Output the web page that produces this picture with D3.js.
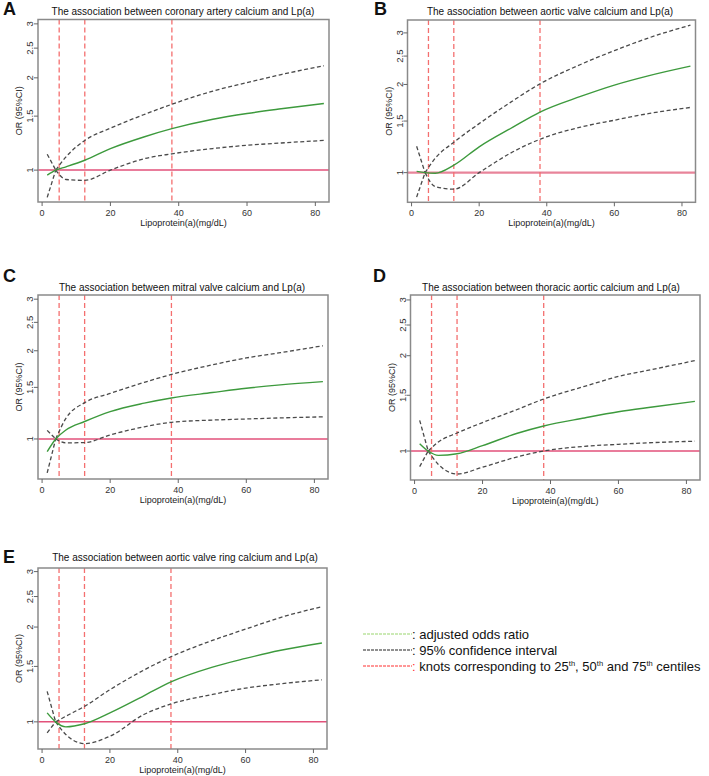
<!DOCTYPE html>
<html><head><meta charset="utf-8">
<script src="https://cdn.jsdelivr.net/npm/d3@7"></script>
<style>body{margin:0;background:#fff} text{font-family:Arial,"Liberation Sans",sans-serif}</style>
</head><body><svg id="c" width="709" height="776"></svg>
<script>
// ---- data ----
const xs = [1.5, 4, 7, 12.5, 20, 30, 38, 50, 60, 70, 82.5];
const refX = 4;
const knots = [5, 12.5, 38];
const xTicks = [0, 20, 40, 60, 80];
const yTicks = [1, 1.5, 2, 2.5, 3];
const panelLetters = ["A", "B", "C", "D", "E"];
const panelTitles = [
  "The association between coronary artery calcium and Lp(a)",
  "The association between aortic valve calcium and Lp(a)",
  "The association between mitral valve calcium and Lp(a)",
  "The association between thoracic aortic calcium and Lp(a)",
  "The association between aortic valve ring calcium and Lp(a)"
];
const orA    = [0.963, 1.0, 1.025, 1.077, 1.175, 1.285, 1.365, 1.465, 1.53, 1.585, 1.65];
const upperA = [1.127, 1.0, 1.105, 1.25, 1.37, 1.52, 1.64, 1.81, 1.93, 2.05, 2.19];
const lowerA = [0.815, 1.0, 0.932, 0.926, 1.0, 1.09, 1.13, 1.176, 1.205, 1.226, 1.25];

const orB    = [1.01, 1.0, 0.995, 1.06, 1.225, 1.43, 1.61, 1.82, 1.99, 2.14, 2.31];
const upperB = [1.23, 1.0, 1.12, 1.27, 1.47, 1.76, 2.01, 2.34, 2.61, 2.88, 3.19];
const lowerB = [0.825, 1.0, 0.896, 0.878, 1.0, 1.178, 1.30, 1.43, 1.51, 1.59, 1.67];

const orC    = [0.905, 1.0, 1.073, 1.147, 1.24, 1.325, 1.38, 1.44, 1.49, 1.53, 1.57];
const upperC = [1.07, 1.0, 1.176, 1.33, 1.43, 1.56, 1.66, 1.79, 1.89, 1.97, 2.08];
const lowerC = [0.766, 1.0, 0.97, 0.972, 1.032, 1.10, 1.14, 1.16, 1.17, 1.18, 1.19];

const orD    = [1.055, 1.0, 0.969, 0.98, 1.04, 1.136, 1.2, 1.272, 1.33, 1.377, 1.435];
const upperD = [1.25, 1.0, 1.068, 1.14, 1.23, 1.35, 1.46, 1.60, 1.72, 1.81, 1.93];
const lowerD = [0.893, 1.0, 0.907, 0.846, 0.889, 0.957, 1.0, 1.035, 1.05, 1.063, 1.074];

const orE    = [1.068, 1.0, 0.964, 0.986, 1.068, 1.21, 1.34, 1.49, 1.59, 1.685, 1.78];
const upperE = [1.25, 1.0, 1.042, 1.12, 1.265, 1.46, 1.61, 1.81, 1.97, 2.14, 2.32];
const lowerE = [0.923, 1.0, 0.912, 0.853, 0.90, 1.055, 1.14, 1.22, 1.28, 1.32, 1.36];

const seriesOR = [orA, orB, orC, orD, orE];
const seriesUp = [upperA, upperB, upperC, upperD, upperE];
const seriesLo = [lowerA, lowerB, lowerC, lowerD, lowerE];

const legendLabels = [": adjusted odds ratio", ": 95% confidence interval", ": knots corresponding to "];

// ---- layout ----
const xDomain = [-1.2, 84];
const layout = [
  {l: 38,    r: 329, t: 19.5, b: 202,   yd: [0.787, 3.10], lx: 3,   ly: 15,  tx: 183, ty: 15},
  {l: 407.5, r: 695.5, t: 20, b: 202.3, yd: [0.792, 3.32], lx: 374, ly: 15,  tx: 550, ty: 15},
  {l: 38,    r: 328, t: 295,  b: 479,   yd: [0.73, 3.10],  lx: 3,   ly: 282, tx: 182, ty: 291},
  {l: 410.5, r: 700, t: 295,  b: 480,   yd: [0.81, 3.11],  lx: 373, ly: 282, tx: 551, ty: 291},
  {l: 38,    r: 327, t: 568,  b: 749,   yd: [0.82, 3.08],  lx: 3,   ly: 563, tx: 185, ty: 561}
];

const svg = d3.select("#c");
const curve = d3.curveMonotoneX;

layout.forEach((p, i) => {
  const g = svg.append("g");
  const x = d3.scaleLinear().domain(xDomain).range([p.l, p.r]);
  const y = d3.scaleLog().domain(p.yd).range([p.b, p.t]);

  g.append("text").attr("x", p.lx).attr("y", p.ly).attr("font-size", 18).attr("font-weight", "bold")
    .attr("fill", "#111").text(panelLetters[i]);
  g.append("text").attr("x", p.tx).attr("y", p.ty).attr("font-size", 10).attr("text-anchor", "middle")
    .attr("fill", "#111").text(panelTitles[i]);

  g.append("line").attr("x1", p.l).attr("x2", p.r).attr("y1", y(1)).attr("y2", y(1))
    .attr("stroke", i === 1 ? "#e8849a" : "#e2517a").attr("stroke-width", i === 1 ? 2.4 : 1.5);

  g.selectAll(".knot").data(knots).enter().append("line")
    .attr("x1", d => x(d)).attr("x2", d => x(d)).attr("y1", p.t).attr("y2", p.b)
    .attr("stroke", "#f46f6f").attr("stroke-width", 1.3).attr("stroke-dasharray", "5,3");

  const line = d3.line().x(d => x(d[0])).y(d => y(d[1])).curve(curve);
  const pts = arr => xs.map((v, k) => [v, arr[k]]);

  [seriesUp[i], seriesLo[i]].forEach(arr => {
    const all = pts(arr);
    const left = all.filter(d => d[0] <= refX);
    const right = all.filter(d => d[0] >= refX);
    [left, right].forEach(seg => {
      g.append("path").attr("d", line(seg)).attr("fill", "none")
        .attr("stroke", "#4a4a4a").attr("stroke-width", 1.3).attr("stroke-dasharray", "4,2.5");
    });
  });

  g.append("path").attr("d", line(pts(seriesOR[i]))).attr("fill", "none")
    .attr("stroke", "#3d9a3d").attr("stroke-width", 1.4);

  g.append("rect").attr("x", p.l).attr("y", p.t).attr("width", p.r - p.l).attr("height", p.b - p.t)
    .attr("fill", "none").attr("stroke", "#8a8a8a").attr("stroke-width", 1.5);

  xTicks.forEach(t => {
    g.append("line").attr("x1", x(t)).attr("x2", x(t)).attr("y1", p.b).attr("y2", p.b + 4)
      .attr("stroke", "#666").attr("stroke-width", 1);
    g.append("text").attr("x", x(t)).attr("y", p.b + 13.5).attr("font-size", 9)
      .attr("text-anchor", "middle").attr("fill", "#333").text(t);
  });
  g.append("text").attr("x", (p.l + p.r) / 2).attr("y", p.b + 23.5).attr("font-size", 9)
    .attr("text-anchor", "middle").attr("fill", "#222").text("Lipoprotein(a)(mg/dL)");

  yTicks.forEach(t => {
    g.append("line").attr("x1", p.l - 4).attr("x2", p.l).attr("y1", y(t)).attr("y2", y(t))
      .attr("stroke", "#666").attr("stroke-width", 1);
    g.append("text").attr("transform", `translate(${p.l - 5},${y(t)}) rotate(-90)`)
      .attr("font-size", 9.5).attr("text-anchor", "middle").attr("fill", "#333").text(t);
  });
  g.append("text").attr("transform", `translate(${p.l - 16},${(p.t + p.b) / 2}) rotate(-90)`)
    .attr("font-size", 9).attr("text-anchor", "middle").attr("fill", "#222").text("OR (95%CI)");
});

// ---- legend ----
const legColors = ["#9ad66f", "#222", "#ff3030"];
const legY = [635, 651, 667];
legY.forEach((ly, k) => {
  svg.append("line").attr("x1", 363).attr("x2", 412).attr("y1", ly - 1).attr("y2", ly - 1)
    .attr("stroke", legColors[k]).attr("stroke-width", 1.1).attr("stroke-dasharray", "3,1");
  const t = svg.append("text").attr("x", 412).attr("y", ly + 4).attr("font-size", 13).attr("fill", "#111");
  if (k < 2) {
    t.text(legendLabels[k]);
  } else {
    t.append("tspan").attr("fill", "#ff3030").text(":");
    t.append("tspan").text(legendLabels[k].slice(1) + "25");
    t.append("tspan").attr("dy", -5).attr("font-size", 7.5).text("th");
    t.append("tspan").attr("dy", 5).text(", 50");
    t.append("tspan").attr("dy", -5).attr("font-size", 7.5).text("th");
    t.append("tspan").attr("dy", 5).text(" and 75");
    t.append("tspan").attr("dy", -5).attr("font-size", 7.5).text("th");
    t.append("tspan").attr("dy", 5).text(" centiles");
  }
});
</script></body></html>
